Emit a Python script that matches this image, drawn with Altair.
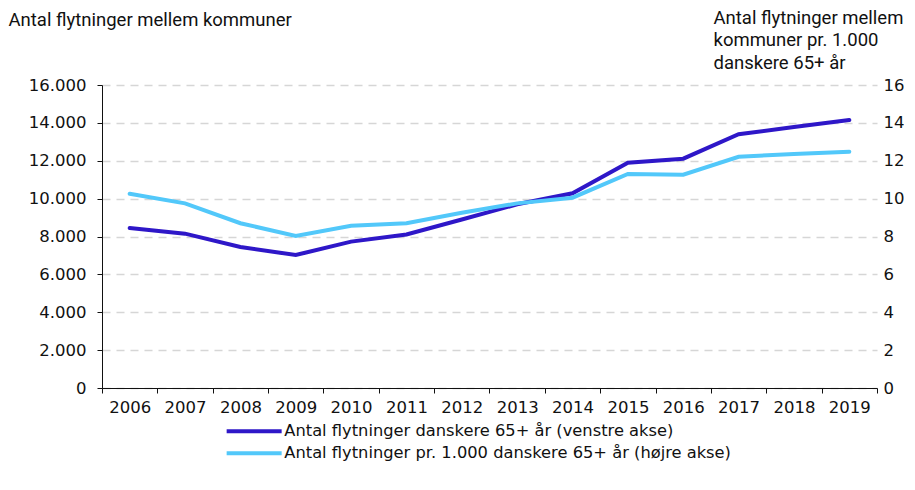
import altair as alt
import pandas as pd

years = [str(y) for y in range(2006, 2020)]
antal = [8450, 8150, 7450, 7020, 7730, 8110, 8900, 9700, 10280, 11900, 12110, 13400, 13780, 14150]
pr1000 = [10.26, 9.75, 8.70, 8.03, 8.57, 8.70, 9.25, 9.75, 10.05, 11.30, 11.26, 12.21, 12.36, 12.48]
series_names = [
    "Antal flytninger danskere 65+ år (venstre akse)",
    "Antal flytninger pr. 1.000 danskere 65+ år (højre akse)",
]
colors = ["#2E17C8", "#52C8FA"]
left_ticks = [0, 2000, 4000, 6000, 8000, 10000, 12000, 14000, 16000]
right_ticks = [0, 2, 4, 6, 8, 10, 12, 14, 16]
left_title = "Antal flytninger mellem kommuner"
right_title = ["Antal flytninger mellem", "kommuner pr. 1.000", "danskere 65+ år"]

df1 = pd.DataFrame({"year": years, "value": antal, "series": series_names[0]})
df2 = pd.DataFrame({"year": years, "value": pr1000, "series": series_names[1]})

FONT = "DejaVu Sans"
TFONT = "Roboto"
FS = 16.5

x = alt.X(
    "year:O",
    scale=alt.Scale(type="band", paddingInner=0, paddingOuter=0),
    bandPosition=0.5,
    axis=alt.Axis(
        title=None, tickBand="extent", labelAngle=0, labelFont=FONT, labelFontSize=FS,
        labelColor="#111", domainColor="#111", tickColor="#111", tickSize=5, labelPadding=6,
        grid=False,
    ),
)
color = alt.Color(
    "series:N",
    scale=alt.Scale(domain=series_names, range=colors),
    legend=alt.Legend(
        title=None, orient="none", legendX=144, legendY=338, direction="vertical",
        symbolType="M-5,0H5", symbolSize=121, symbolStrokeWidth=4,
        labelFont=FONT, labelFontSize=16.3, labelColor="#111", labelLimit=0,
        labelOffset=22, rowPadding=5, padding=0,
    ),
)

left = alt.Chart(df1).mark_line(strokeWidth=4, strokeCap="round").encode(
    x=x,
    y=alt.Y(
        "value:Q",
        scale=alt.Scale(domain=[0, 16000]),
        axis=alt.Axis(
            values=left_ticks,
            labelExpr="replace(format(datum.value, ','), ',', '.')",
            title=left_title, titleAngle=0, titleAlign="left", titleBaseline="alphabetic",
            titleX=-94, titleY=-60, titleFont=TFONT, titleFontSize=18.5, titleFontWeight="normal",
            titleColor="#111",
            labelFont=FONT, labelFontSize=FS, labelColor="#111", labelPadding=11,
            domainColor="#111", tickColor="#111", tickSize=5,
            grid=True, gridDash=[8, 6], gridColor="#d6d6d6", gridWidth=1.5,
        ),
    ),
    color=color,
)

right = alt.Chart(df2).mark_line(strokeWidth=4, strokeCap="round").encode(
    x=x,
    y=alt.Y(
        "value:Q",
        scale=alt.Scale(domain=[0, 16]),
        axis=alt.Axis(
            orient="right", values=right_ticks,
            title=right_title, titleAngle=0, titleAlign="left", titleBaseline="alphabetic",
            titleX=-164, titleY=-62, titleLineHeight=22.5,
            titleFont=TFONT, titleFontSize=18.5, titleFontWeight="normal", titleColor="#111",
            labelFont=FONT, labelFontSize=FS, labelColor="#111", labelPadding=6,
            domain=False, ticks=False, grid=False,
        ),
    ),
    color=color,
)

chart = (
    alt.layer(left, right)
    .resolve_scale(y="independent")
    .properties(width=775, height=303, padding=0)
    .configure_view(stroke=None)
)

chart.save("out.html", embed_options={"renderer": "svg", "actions": False})
